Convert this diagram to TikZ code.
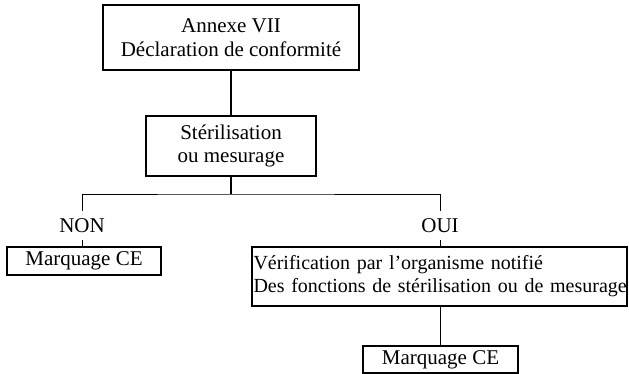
\documentclass[tikz,border=0pt]{standalone}
\usepackage{fontspec}
\setmainfont{Liberation Serif}
\begin{document}
\begin{tikzpicture}[x=1pt,y=-1pt,
  box/.style={draw, line width=1.1pt, inner sep=0pt, align=center, font=\fontsize{21}{23.5}\selectfont},
  lbl/.style={inner xsep=0pt, inner ysep=7pt, font=\fontsize{21}{23.5}\selectfont},
  thicklink/.style={line width=1.8pt},
  thinlink/.style={line width=0.9pt}]
\useasboundingbox (0,0) rectangle (629,374);
\node[box, minimum width=256pt, minimum height=65pt] (decl) at (231,37.5) {Annexe VII\\Déclaration de conformité};
\node[box, minimum width=170pt, minimum height=60pt] (steril) at (231,146) {Stérilisation\\ou mesurage};
\coordinate (split) at (231,194);
\node[lbl] (non) at (82,225.5) {NON};
\node[lbl] (oui) at (440,225.5) {OUI};
\node[box, minimum width=154pt, minimum height=28pt] (ceL) at (84,261) {Marquage CE};
\node[box, text width=372pt, align=left, inner xsep=1.5pt, minimum height=59pt,
  font=\fontsize{20}{23}\selectfont] (verif) at (439.5,276.5)
  {\mbox{Vérification par l’organisme notifié}\\\mbox{Des fonctions de stérilisation ou de mesurage}};
\node[box, minimum width=155pt, minimum height=27pt] (ceR) at (440.5,359.5) {Marquage CE};
\draw[thicklink] (decl.south) -- (steril.north);
\draw[thicklink] (steril.south) -- (split);
\draw[thinlink] (non.north) |- (split) -| (oui.north);
\draw[thinlink] (non.south) -- (non.south |- ceL.north);
\draw[thinlink] (oui.south) -- (oui.south |- verif.north);
\draw[thinlink] (ceR.north |- verif.south) -- (ceR.north);
\end{tikzpicture}
\end{document}
